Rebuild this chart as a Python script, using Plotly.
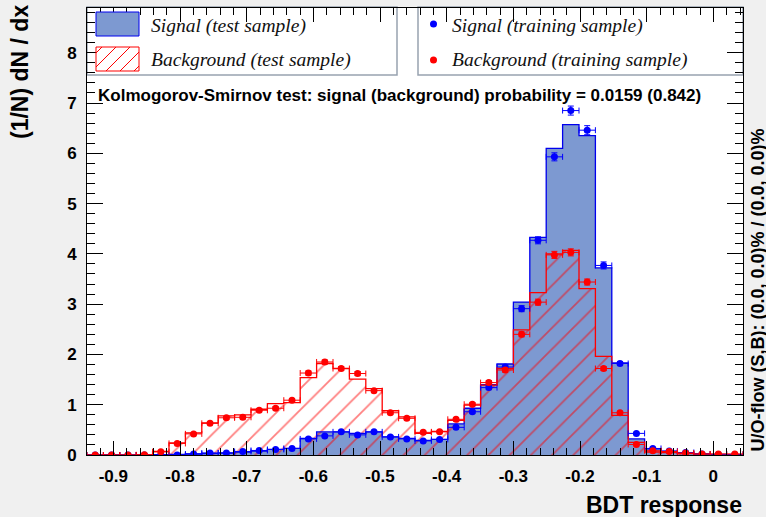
import plotly.graph_objects as go

# ---- histogram binning (BDT response) ----
x_min, x_max = -0.9395, 0.0445
n_bins = 40

# ---- test-sample histograms (normalised, per bin) ----
signal_test = [0, 0, 0, 0, 0.005, 0.01, 0.02, 0.03, 0.04, 0.06,
               0.08, 0.11, 0.13, 0.33, 0.46, 0.46, 0.43, 0.46, 0.36, 0.33,
               0.29, 0.31, 0.62, 0.93, 1.40, 1.81, 3.04, 4.33, 6.10, 6.57,
               6.35, 3.72, 1.83, 0.32, 0.12, 0.07, 0.04, 0.02, 0.01, 0.0]
background_test = [0, 0, 0, 0.005, 0.07, 0.24, 0.44, 0.64, 0.78, 0.80,
                   0.91, 1.02, 1.04, 1.54, 1.82, 1.72, 1.51, 1.32, 0.88, 0.76,
                   0.43, 0.47, 0.69, 0.99, 1.39, 1.72, 2.49, 3.23, 4.00, 4.07,
                   3.31, 1.96, 0.79, 0.25, 0.06, 0.05, 0.03, 0.02, 0.01, 0.01]

# ---- training-sample points ----
signal_train = [0, 0, 0, 0, 0.0, 0.0, 0.02, 0.04, 0.04, 0.07,
                0.09, 0.11, 0.13, 0.32, 0.38, 0.46, 0.40, 0.46, 0.36, 0.32,
                0.28, 0.31, 0.55, 0.86, 1.34, 1.75, 2.91, 4.27, 5.93, 6.85,
                6.46, 3.77, 1.82, 0.43, 0.13, 0.08, 0.05, 0.02, 0.01, 0.01]
signal_train_err = [0, 0, 0, 0, 0.005, 0.005, 0.01, 0.01, 0.01, 0.01,
                    0.01, 0.015, 0.015, 0.02, 0.02, 0.02, 0.02, 0.02, 0.02, 0.02,
                    0.02, 0.02, 0.03, 0.03, 0.04, 0.04, 0.06, 0.07, 0.08, 0.09,
                    0.09, 0.07, 0.04, 0.02, 0.01, 0.01, 0.01, 0.005, 0.005, 0.005]
background_train = [0, 0, 0, 0.005, 0.065, 0.23, 0.42, 0.63, 0.74, 0.75,
                    0.89, 0.93, 1.09, 1.63, 1.85, 1.72, 1.62, 1.28, 0.84, 0.73,
                    0.45, 0.46, 0.71, 1.01, 1.44, 1.69, 2.40, 3.04, 3.98, 4.03,
                    3.44, 1.72, 0.84, 0.21, 0.085, 0.07, 0.04, 0.02, 0.02, 0.02]
background_train_err = [0, 0, 0, 0.005, 0.01, 0.015, 0.02, 0.025, 0.03, 0.03,
                        0.03, 0.03, 0.03, 0.04, 0.04, 0.04, 0.04, 0.035, 0.03, 0.03,
                        0.02, 0.02, 0.03, 0.03, 0.04, 0.04, 0.05, 0.06, 0.07, 0.07,
                        0.06, 0.04, 0.03, 0.015, 0.01, 0.01, 0.01, 0.005, 0.005, 0.005]

x_ticks = [-0.9, -0.8, -0.7, -0.6, -0.5, -0.4, -0.3, -0.2, -0.1, 0]
x_tick_text = ["-0.9", "-0.8", "-0.7", "-0.6", "-0.5", "-0.4", "-0.3", "-0.2", "-0.1", "0"]
y_ticks = [0, 1, 2, 3, 4, 5, 6, 7, 8]

ks_text = "Kolmogorov-Smirnov test: signal (background) probability = 0.0159 (0.842)"
overflow_text = "U/O-flow (S,B): (0.0, 0.0)% / (0.0, 0.0)%"

# ---- colours ----
SIG_FILL = "#7d99d1"
SIG_LINE = "#0000ee"
BKG_LINE = "#ff0000"
SIG_MARK = "#0000ff"
BKG_MARK = "#ff0000"

bin_width = (x_max - x_min) / n_bins
edges = [x_min + i * bin_width for i in range(n_bins + 1)]
centers = [x_min + (i + 0.5) * bin_width for i in range(n_bins)]


def step_outline(values):
    xs = [edges[0]] + edges + [edges[-1]]
    ys = [0] + list(values) + [values[-1], 0]
    return xs, ys


fig = go.Figure()

# signal test sample: filled histogram
fig.add_trace(go.Bar(x=centers, y=signal_test, width=bin_width,
                     marker=dict(color=SIG_FILL, line=dict(width=0)),
                     showlegend=False, hoverinfo="skip"))
# background test sample: hatched histogram
fig.add_trace(go.Bar(x=centers, y=background_test, width=bin_width,
                     marker=dict(color="rgba(0,0,0,0)", line=dict(width=0),
                                 pattern=dict(shape="/", fgcolor=BKG_LINE,
                                              bgcolor="rgba(0,0,0,0)",
                                              size=15, solidity=0.12)),
                     showlegend=False, hoverinfo="skip"))

sx, sy = step_outline(signal_test)
fig.add_trace(go.Scatter(x=sx, y=sy, mode="lines", line_shape="hv",
                         line=dict(color=SIG_LINE, width=1.3),
                         showlegend=False, hoverinfo="skip"))
bx, by = step_outline(background_test)
fig.add_trace(go.Scatter(x=bx, y=by, mode="lines", line_shape="hv",
                         line=dict(color=BKG_LINE, width=1.3),
                         showlegend=False, hoverinfo="skip"))

# training sample points with error bars
fig.add_trace(go.Scatter(
    x=centers, y=signal_train, mode="markers",
    marker=dict(color=SIG_MARK, size=7),
    error_x=dict(type="constant", value=bin_width / 2, color=SIG_MARK, thickness=1, width=3),
    error_y=dict(type="data", array=signal_train_err, color=SIG_MARK, thickness=1, width=3),
    showlegend=False))
fig.add_trace(go.Scatter(
    x=centers, y=background_train, mode="markers",
    marker=dict(color=BKG_MARK, size=7),
    error_x=dict(type="constant", value=bin_width / 2, color=BKG_MARK, thickness=1, width=3),
    error_y=dict(type="data", array=background_train_err, color=BKG_MARK, thickness=1, width=3),
    showlegend=False))

# ---- frame geometry (pixels) ----
W, H = 766, 517
L, R, T, B = 87, 743, 8, 455


def px(p):
    return (p - L) / (R - L)


def py(p):
    return (B - p) / (B - T)


shapes = []
# legend boxes
for x0, x1 in [(87, 397), (418, 743)]:
    shapes.append(dict(type="rect", xref="paper", yref="paper",
                       x0=px(x0), x1=px(x1), y0=py(75), y1=py(7),
                       line=dict(color="#98a2b0", width=1.5),
                       fillcolor="white", layer="below"))
# signal swatch
shapes.append(dict(type="rect", xref="paper", yref="paper",
                   x0=px(96), x1=px(139), y0=py(36), y1=py(12),
                   line=dict(color=SIG_LINE, width=1), fillcolor=SIG_FILL))
# background swatch (hatched)
sw_x0, sw_x1, sw_y0, sw_y1 = 96, 139, 47, 71
shapes.append(dict(type="rect", xref="paper", yref="paper",
                   x0=px(sw_x0), x1=px(sw_x1), y0=py(sw_y1), y1=py(sw_y0),
                   line=dict(color=BKG_LINE, width=1), fillcolor="white"))
hh = sw_y1 - sw_y0
for start in range(sw_x0 - hh + 6, sw_x1, 14):
    xa = max(sw_x0, start)
    xb = min(sw_x1, start + hh)
    if xb <= xa:
        continue
    ya = sw_y1 - (xa - start)
    yb = sw_y1 - (xb - start)
    shapes.append(dict(type="line", xref="paper", yref="paper",
                       x0=px(xa), y0=py(ya), x1=px(xb), y1=py(yb),
                       line=dict(color=BKG_LINE, width=1)))
# training markers in legend
for cy, col in [(24, SIG_MARK), (60, BKG_MARK)]:
    shapes.append(dict(type="circle", xref="paper", yref="paper",
                       x0=px(430), x1=px(437), y0=py(cy + 3.5), y1=py(cy - 3.5),
                       line=dict(color=col, width=0), fillcolor=col))

serif = dict(family="Liberation Serif", size=19.5, color="#111111", style="italic")
bold = dict(family="Liberation Sans", weight="bold", color="black")

annotations = [
    dict(text="Signal (test sample)", x=px(149), y=py(26), xanchor="left", yanchor="middle", font=serif),
    dict(text="Background (test sample)", x=px(149), y=py(60), xanchor="left", yanchor="middle", font=serif),
    dict(text="Signal (training sample)", x=px(450), y=py(26), xanchor="left", yanchor="middle", font=serif),
    dict(text="Background (training sample)", x=px(450), y=py(60), xanchor="left", yanchor="middle", font=serif),
    dict(text=ks_text, x=px(96), y=py(95), xanchor="left", yanchor="middle",
         font=dict(bold, size=17)),
    dict(text="BDT response", x=px(744), y=py(505), xanchor="right", yanchor="middle",
         font=dict(bold, size=23)),
    dict(text="(1/N) dN / dx", x=px(20), y=py(3), xanchor="center", yanchor="top",
         textangle=-90, font=dict(bold, size=23)),
    dict(text=overflow_text, x=px(757), y=py(453), xanchor="center", yanchor="bottom",
         textangle=-90, font=dict(bold, size=18)),
]
for a in annotations:
    a.update(xref="paper", yref="paper", showarrow=False)

axis_common = dict(showline=True, linecolor="black", linewidth=1, mirror="ticks",
                   ticks="inside", tickcolor="black", tickwidth=1,
                   showgrid=False, zeroline=False,
                   tickfont=dict(family="Liberation Sans", size=17, weight="bold", color="black"))

fig.update_layout(
    width=W, height=H,
    margin=dict(l=L, r=W - R, t=T, b=H - B),
    paper_bgcolor="#f0f0f0", plot_bgcolor="white",
    barmode="overlay", bargap=0,
    showlegend=False,
    shapes=shapes, annotations=annotations,
    xaxis=dict(axis_common, range=[x_min, x_max], tickmode="array",
               tickvals=x_ticks, ticktext=x_tick_text, ticklen=14,
               ticklabelstandoff=6,
               minor=dict(ticks="inside", ticklen=7, dtick=0.02, tick0=0,
                          tickcolor="black", showgrid=False)),
    yaxis=dict(axis_common, range=[0, 8.89], tickmode="array",
               tickvals=y_ticks, ticktext=[str(v) for v in y_ticks], ticklen=16,
               ticklabelstandoff=6,
               minor=dict(ticks="inside", ticklen=8, dtick=0.2, tick0=0,
                          tickcolor="black", showgrid=False)),
)

fig.write_html("out.html")
